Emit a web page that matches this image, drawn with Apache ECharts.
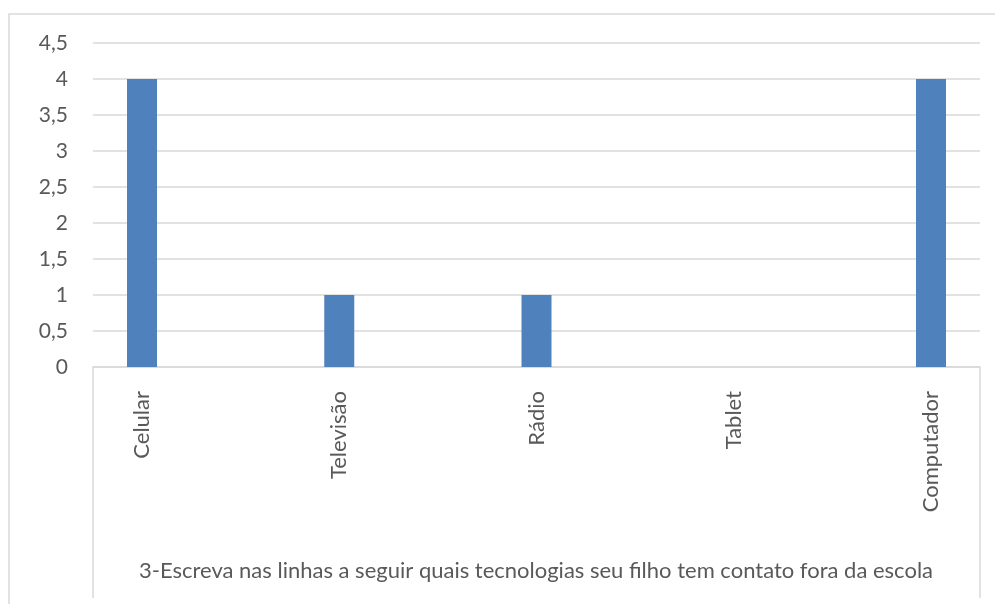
<!DOCTYPE html>
<html>
<head>
<meta charset="utf-8">
<script src="https://cdn.jsdelivr.net/npm/echarts@6/dist/echarts.min.js"></script>
<style>
  html, body { margin: 0; padding: 0; background: #fff; }
  #chart { width: 995px; height: 604px; }
</style>
</head>
<body>
<div id="chart"></div>
<script>
const categories = ["Celular", "Televisão", "Rádio", "Tablet", "Computador"]
const values = [4, 1, 1, 0, 4]
const yTicks = [0, 0.5, 1, 1.5, 2, 2.5, 3, 3.5, 4, 4.5]
const axisTitle = "3-Escreva nas linhas a seguir quais tecnologias seu filho tem contato fora da escola"

const chart = echarts.init(document.getElementById("chart"), null, { renderer: "canvas" })

const textColor = "#595959"
const lineColor = "#d9d9d9"
const font = "Lato"

chart.setOption({
  animation: false,
  textStyle: { fontFamily: font },
  grid: [
    { left: 93, right: 15, top: 43, bottom: 237 },
    { left: 142, right: 64, top: 43, bottom: 237 }
  ],
  xAxis: [
    {
      gridIndex: 0,
      type: "category",
      data: categories,
      axisLine: { show: true, lineStyle: { color: lineColor, width: 1.5 } },
      axisTick: { show: false },
      axisLabel: { show: false }
    },
    {
      gridIndex: 1,
      type: "category",
      boundaryGap: false,
      data: categories,
      axisLine: { show: false },
      axisTick: { show: false },
      axisLabel: {
        rotate: 90,
        margin: 24,
        color: textColor,
        fontSize: 22,
        fontFamily: font
      }
    }
  ],
  yAxis: [
    {
      gridIndex: 0,
      type: "value",
      min: yTicks[0],
      max: yTicks[yTicks.length - 1],
      interval: 0.5,
      axisLine: { show: false },
      axisTick: { show: false },
      axisLabel: {
        color: textColor,
        fontSize: 21,
        margin: 25,
        fontFamily: font,
        formatter: v => String(v).replace(".", ",")
      },
      splitLine: { lineStyle: { color: lineColor, width: 1.5 } }
    },
    {
      gridIndex: 1,
      type: "value",
      min: yTicks[0],
      max: yTicks[yTicks.length - 1],
      interval: 0.5,
      show: false
    }
  ],
  series: [
    {
      type: "bar",
      xAxisIndex: 1,
      yAxisIndex: 1,
      barWidth: 30,
      itemStyle: { color: "#4f81bd" },
      data: values
    }
  ],
  graphic: [
    {
      type: "rect",
      shape: { x: 9, y: 14, width: 1100, height: 700 },
      style: { fill: null, stroke: lineColor, lineWidth: 1.5 },
      silent: true
    },
    {
      type: "line",
      shape: { x1: 93, y1: 367, x2: 93, y2: 598 },
      style: { stroke: lineColor, lineWidth: 1.5 }
    },
    {
      type: "line",
      shape: { x1: 980, y1: 367, x2: 980, y2: 598 },
      style: { stroke: lineColor, lineWidth: 1.5 }
    },
    {
      type: "text",
      x: 536,
      y: 571,
      style: {
        text: axisTitle,
        fill: textColor,
        font: "22px '" + font + "'",
        align: "center",
        verticalAlign: "middle"
      }
    }
  ]
})
</script>
</body>
</html>
